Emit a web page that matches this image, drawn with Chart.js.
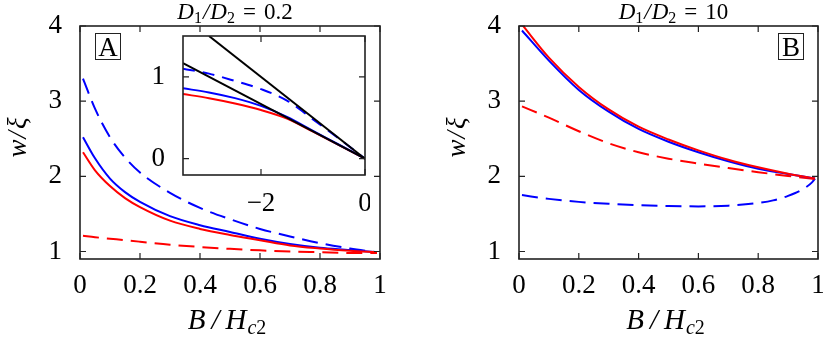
<!DOCTYPE html>
<html>
<head>
<meta charset="utf-8">
<title>w/xi against B/Hc2</title>
<script src="https://cdn.jsdelivr.net/npm/chart.js@4.4.1/dist/chart.umd.min.js"></script>
<style>
  body { margin: 0; background: #fff; }
  #wrap { position: relative; width: 823px; height: 345px; }
  #wrap canvas { position: absolute; }
</style>
</head>
<body>
<div id="wrap">
  <canvas id="panelA" width="411" height="345" style="left:0;top:0"></canvas>
  <canvas id="panelB" width="412" height="345" style="left:411px;top:0"></canvas>
  <canvas id="inset" width="240" height="190" style="left:130px;top:30px"></canvas>
</div>
<script>
// field values B/Hc2 where the curves were read
const fieldA = [0.01, 0.05, 0.1, 0.15, 0.2, 0.3, 0.4, 0.5, 0.6, 0.7, 0.8, 0.9, 0.99];
const fieldB = [0.01, 0.1, 0.2, 0.3, 0.4, 0.5, 0.6, 0.7, 0.8, 0.9, 0.99];
const fieldTicks = [0, 0.2, 0.4, 0.6, 0.8, 1];
const widthTicks = [1, 2, 3, 4];

// panel A, D1/D2 = 0.2
const aBlueDash  = [3.30, 2.90, 2.52, 2.25, 2.05, 1.78, 1.58, 1.43, 1.30, 1.20, 1.11, 1.04, 0.99];
const aBlueSolid = [2.52, 2.24, 1.97, 1.79, 1.66, 1.47, 1.35, 1.26, 1.17, 1.10, 1.05, 1.02, 0.99];
const aRedSolid  = [2.32, 2.08, 1.87, 1.71, 1.59, 1.41, 1.30, 1.22, 1.15, 1.08, 1.04, 1.01, 0.99];
const aRedDash   = [1.21, 1.19, 1.17, 1.15, 1.13, 1.09, 1.06, 1.035, 1.015, 1.0, 0.99, 0.98, 0.98];

// panel B, D1/D2 = 10
const bRedSolid  = [4.02, 3.58, 3.19, 2.89, 2.66, 2.49, 2.345, 2.22, 2.12, 2.035, 1.97];
const bBlueSolid = [3.94, 3.54, 3.15, 2.86, 2.63, 2.46, 2.32, 2.20, 2.10, 2.03, 1.97];
const bRedDash   = [2.93, 2.78, 2.60, 2.44, 2.32, 2.235, 2.17, 2.11, 2.055, 2.005, 1.965];
const bBlueDashX = [0.01, 0.1, 0.2, 0.3, 0.4, 0.5, 0.6, 0.7, 0.8, 0.85, 0.9, 0.95, 0.98, 0.99];
const bBlueDash  = [1.75, 1.70, 1.66, 1.635, 1.615, 1.605, 1.60, 1.61, 1.645, 1.68, 1.74, 1.83, 1.92, 1.97];

// inset of panel A
const insetX = [-3.5, -3, -2.5, -2, -1.5, -1, -0.5, 0];
const iBlueDash  = [1.10, 1.04, 0.95, 0.85, 0.71, 0.48, 0.245, 0];
const iBlueSolid = [0.86, 0.81, 0.74, 0.645, 0.51, 0.34, 0.17, 0];
const iRedSolid  = [0.79, 0.74, 0.675, 0.595, 0.49, 0.33, 0.165, 0];
const halfX = [-3, 0],   halfY = [1.5, 0];
const thirdX = [-3.5, 0], thirdY = [1.167, 0];
const insetXTicks = [-2, 0];
const insetYTicks = [0, 1];

const serif = "'Liberation Serif', 'Times New Roman', serif";
Chart.defaults.font.family = serif;
Chart.defaults.color = '#000';

function pts(xs, ys) { return xs.map((x, i) => ({ x: x, y: ys[i] })); }

function curve(xs, ys, color, dash) {
  return {
    data: pts(xs, ys), borderColor: color, borderWidth: 2, borderDash: dash || [],
    pointRadius: 0, fill: false, cubicInterpolationMode: 'monotone'
  };
}

// text built from pieces (sub/subscripts, gaps), centred on cx
function rich(ctx, parts, cx, base) {
  let w = 0;
  parts.forEach(p => { ctx.font = p.f; p.w = ctx.measureText(p.t).width + (p.g || 0); w += p.w; });
  let x = cx - w / 2;
  parts.forEach(p => { ctx.font = p.f; ctx.fillText(p.t, x, base + (p.dy || 0)); x += p.w; });
}

const it = n => 'italic ' + n + 'px ' + serif;
const up = n => n + 'px ' + serif;

function titleParts(val) {
  return [
    { t: 'D', f: it(23) }, { t: '1', f: up(16), dy: 4, g: 1 },
    { t: '/', f: it(23), g: 1 },
    { t: 'D', f: it(23) }, { t: '2', f: up(16), dy: 4, g: 8 },
    { t: '=', f: up(23), g: 8 },
    { t: val, f: up(23) }
  ];
}
const xTitle = [
  { t: 'B', f: it(29), g: 6 }, { t: '/', f: it(29), g: 6 }, { t: 'H', f: it(29), g: 1 },
  { t: 'c', f: it(20), dy: 5 }, { t: '2', f: up(20), dy: 5 }
];
const yTitle = [{ t: 'w', f: it(27), g: 1 }, { t: '/', f: it(27), g: 2 }, { t: '\u03be', f: it(27) }];

const frame = {
  id: 'frame',
  beforeDatasetsDraw(chart, args, opts) {
    if (!opts.white) return;
    const c = chart.chartArea;
    chart.ctx.save();
    chart.ctx.fillStyle = '#fff';
    chart.ctx.fillRect(c.left, c.top, c.width, c.height);
    chart.ctx.restore();
  },
  afterDatasetsDraw(chart) {
    const { ctx, chartArea: c, scales: { x, y } } = chart;
    ctx.save();
    ctx.strokeStyle = '#222';
    ctx.lineWidth = 1.2;
    ctx.beginPath();
    x.ticks.forEach(t => {
      const p = x.getPixelForValue(t.value);
      ctx.moveTo(p, c.bottom); ctx.lineTo(p, c.bottom - 6);
      ctx.moveTo(p, c.top); ctx.lineTo(p, c.top + 6);
    });
    y.ticks.forEach(t => {
      const p = y.getPixelForValue(t.value);
      ctx.moveTo(c.left, p); ctx.lineTo(c.left + 6, p);
      ctx.moveTo(c.right, p); ctx.lineTo(c.right - 6, p);
    });
    ctx.stroke();
    ctx.lineWidth = 1.6;
    ctx.strokeRect(c.left, c.top, c.width, c.height);
    ctx.restore();
  }
};

const labels = {
  id: 'labels',
  afterDraw(chart, args, o) {
    const { ctx, chartArea: c } = chart;
    const mid = (c.left + c.right) / 2;
    ctx.save();
    ctx.fillStyle = '#000';
    ctx.textBaseline = 'alphabetic';
    rich(ctx, titleParts(o.ratio), mid + 5, 19);
    rich(ctx, xTitle, mid - 3, 329);
    ctx.save();
    ctx.translate(c.left - 62, (c.top + c.bottom) / 2 - 5);
    ctx.rotate(-Math.PI / 2);
    rich(ctx, yTitle, 0, 8);
    ctx.restore();
    // panel letter in a box
    const bx = o.side === 'left' ? c.left + 15 : c.right - 40;
    const by = c.top + 7;
    ctx.strokeStyle = '#222';
    ctx.lineWidth = 1;
    ctx.strokeRect(bx + 0.5, by + 0.5, 25, 26);
    ctx.font = up(27);
    ctx.textAlign = 'center';
    ctx.fillText(o.letter, bx + 13, by + 23);
    ctx.restore();
  }
};

function panel(id, cfg) {
  return new Chart(document.getElementById(id), {
    type: 'line',
    data: { datasets: cfg.datasets },
    options: {
      responsive: false,
      animation: false,
      events: [],
      layout: { padding: cfg.pad },
      plugins: {
        legend: { display: false },
        tooltip: { enabled: false },
        frame: { white: !!cfg.white },
        labels: cfg.labels || {}
      },
      scales: {
        x: {
          type: 'linear', min: cfg.xr[0], max: cfg.xr[1],
          grid: { display: false, drawTicks: false },
          border: { display: false },
          ticks: { font: { size: 27 }, padding: cfg.xPad, maxRotation: 0, autoSkip: false, callback: cfg.fmt },
          afterBuildTicks: s => { s.ticks = cfg.xt.map(v => ({ value: v })); },
          afterFit: s => { s.height = cfg.xH; s.paddingLeft = 0; s.paddingRight = 0; }
        },
        y: {
          type: 'linear', min: cfg.yr[0], max: cfg.yr[1],
          grid: { display: false, drawTicks: false },
          border: { display: false },
          ticks: { font: { size: 27 }, padding: 18, autoSkip: false },
          afterBuildTicks: s => { s.ticks = cfg.yt.map(v => ({ value: v })); },
          afterFit: s => { s.width = cfg.yW; s.paddingTop = 0; s.paddingBottom = 0; }
        }
      }
    },
    plugins: cfg.labels ? [frame, labels] : [frame]
  });
}

const minus = v => (v < 0 ? '\u2212' + Math.abs(v) : String(v));

panel('panelA', {
  datasets: [
    curve(fieldA, aRedDash, '#ff0000', [16, 8]),
    curve(fieldA, aRedSolid, '#ff0000'),
    curve(fieldA, aBlueSolid, '#0000ff'),
    curve(fieldA, aBlueDash, '#0000ff', [16, 8])
  ],
  xr: [0, 1], yr: [0.9, 4], xt: fieldTicks, yt: widthTicks,
  pad: { top: 26, right: 31, left: 0, bottom: 0 }, yW: 80, xH: 86, xPad: 11,
  labels: { ratio: '0.2', letter: 'A', side: 'left' }
});

panel('panelB', {
  datasets: [
    curve(fieldB, bRedSolid, '#ff0000'),
    curve(fieldB, bBlueSolid, '#0000ff'),
    curve(fieldB, bRedDash, '#ff0000', [16, 8]),
    curve(bBlueDashX, bBlueDash, '#0000ff', [16, 8])
  ],
  xr: [0, 1], yr: [0.9, 4], xt: fieldTicks, yt: widthTicks,
  pad: { top: 26, right: 5, left: 0, bottom: 0 }, yW: 108, xH: 86, xPad: 11,
  labels: { ratio: '10', letter: 'B', side: 'right' }
});

panel('inset', {
  datasets: [
    curve(halfX, halfY, '#000000'),
    curve(thirdX, thirdY, '#000000'),
    curve(insetX, iBlueDash, '#0000ff', [12, 8]),
    curve(insetX, iBlueSolid, '#0000ff'),
    curve(insetX, iRedSolid, '#ff0000')
  ],
  xr: [-3.5, 0], yr: [-0.2, 1.5], xt: insetXTicks, yt: insetYTicks,
  pad: { top: 6, right: 5, left: 0, bottom: 0 }, yW: 53, xH: 45, xPad: 13,
  fmt: minus, white: true
});
</script>
</body>
</html>
